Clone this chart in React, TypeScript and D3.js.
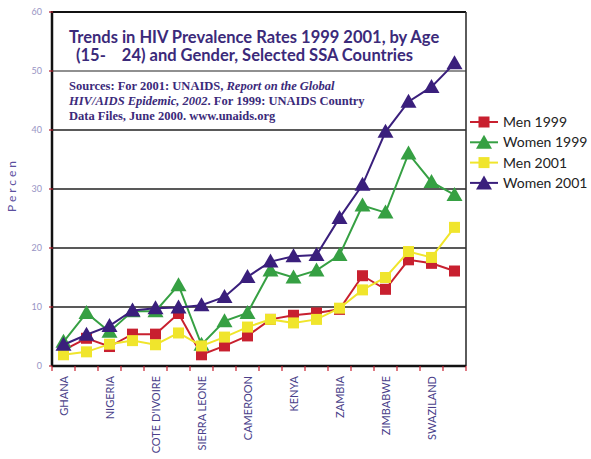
import { useMemo } from 'react'
import * as d3 from 'd3'

const W = 591
const H = 459
const MARGIN = { top: 12, right: 125, bottom: 93, left: 52 }

// 18 countries, only every other one is labelled on the axis
const countries = [
  'GHANA', '', 'NIGERIA', '', "COTE D'IVOIRE", '', 'SIERRA LEONE', '', 'CAMEROON',
  '', 'KENYA', '', 'ZAMBIA', '', 'ZIMBABWE', '', 'SWAZILAND', ''
]

const men1999 = [2.7, 4.7, 3.3, 5.4, 5.4, 8.9, 1.9, 3.4, 5.1, 7.9, 8.6, 9.0, 9.6, 15.3, 13.0, 18.0, 17.4, 16.1]
const women1999 = [4.1, 9.0, 5.8, 9.3, 9.3, 13.7, 3.6, 7.6, 9.0, 16.2, 15.0, 16.2, 18.8, 27.2, 26.0, 36.0, 31.2, 29.0]
const men2001 = [1.9, 2.4, 3.7, 4.3, 3.6, 5.6, 3.4, 4.9, 6.6, 7.9, 7.3, 7.9, 9.8, 12.9, 15.0, 19.4, 18.4, 23.5]
const women2001 = [3.6, 5.3, 6.8, 9.4, 9.8, 9.9, 10.3, 11.7, 15.1, 17.7, 18.6, 18.8, 25.1, 30.7, 39.7, 44.8, 47.3, 51.3]

const yTicks = [0, 10, 20, 30, 40, 50, 60]

const series = [
  { name: 'Men 1999', values: men1999, color: '#c8202f', marker: 'square' },
  { name: 'Women 1999', values: women1999, color: '#36a043', marker: 'triangle' },
  { name: 'Men 2001', values: men2001, color: '#f0e52c', marker: 'square' },
  { name: 'Women 2001', values: women2001, color: '#3a1f7c', marker: 'triangle' },
]

const PURPLE = '#3b2a7a'

function Marker({ type, x, y, color }: { type: string; x: number; y: number; color: string }) {
  if (type === 'square') {
    return <rect x={x - 5.5} y={y - 5.5} width={11} height={11} fill={color} />
  }
  const tri = `M${x},${y - 8} L${x + 8},${y + 6} L${x - 8},${y + 6} Z`
  return <path d={tri} fill={color} />
}

export default function App() {
  const innerWidth = W - MARGIN.left - MARGIN.right
  const innerHeight = H - MARGIN.top - MARGIN.bottom

  const { xScale, yScale } = useMemo(() => {
    const xScale = d3.scaleBand<number>()
      .domain(countries.map((_, i) => i))
      .range([0, innerWidth])
    const yScale = d3.scaleLinear().domain([0, 60]).range([innerHeight, 0])
    return { xScale, yScale }
  }, [innerWidth, innerHeight])

  const cx = (i: number) => (xScale(i) ?? 0) + xScale.bandwidth() / 2

  const line = (vals: number[]) =>
    d3.line<number>()
      .x((_, i) => cx(i))
      .y(d => yScale(d))(vals) ?? ''

  return (
    <div style={{ position: 'absolute', left: 0, top: 0 }}>
      <svg width={W} height={H} style={{ display: 'block', background: '#fff' }}>
        <g transform={`translate(${MARGIN.left},${MARGIN.top})`}>
          {/* grid lines */}
          {yTicks.filter(t => t > 0 && t < 60).map(t => (
            <line key={t} x1={0} x2={innerWidth} y1={yScale(t)} y2={yScale(t)}
              stroke={t === 50 ? '#6b6b6b' : '#222'} strokeWidth={1.6} />
          ))}

          {/* frame */}
          <line x1={0} x2={innerWidth} y1={0} y2={0} stroke="#111" strokeWidth={2.2} />
          <line x1={innerWidth} x2={innerWidth} y1={0} y2={innerHeight} stroke="#333" strokeWidth={1.6} />

          {/* title */}
          <g fill={PURPLE} fontFamily="Lato, 'Open Sans', sans-serif" fontWeight={700} fontSize={16.5}>
            <text x={17} y={31}>Trends in HIV Prevalence Rates 1999  2001, by Age</text>
            <text x={24} y={49} style={{ whiteSpace: 'pre' }}>(15-    24) and Gender, Selected SSA Countries</text>
          </g>
          <g fill={PURPLE} fontFamily="'Liberation Serif', serif" fontWeight={700} fontSize={12.5}>
            <text x={17} y={78}>
              Sources: For 2001: UNAIDS, <tspan fontStyle="italic">Report on the Global</tspan>
            </text>
            <text x={17} y={93}>
              <tspan fontStyle="italic">HIV/AIDS Epidemic, 2002</tspan>. For 1999: UNAIDS Country
            </text>
            <text x={17} y={108}>Data Files, June 2000. www.unaids.org</text>
          </g>

          {/* series */}
          {series.map(s => (
            <g key={s.name}>
              <path d={line(s.values)} fill="none" stroke={s.color} strokeWidth={2} />
              {s.values.map((v, i) => (
                <Marker key={i} type={s.marker} x={cx(i)} y={yScale(v)} color={s.color} />
              ))}
            </g>
          ))}

          {/* y axis */}
          <line x1={0} x2={0} y1={-1} y2={innerHeight} stroke="#111" strokeWidth={2.5} />
          {yTicks.map(t => (
            <g key={t} transform={`translate(0,${yScale(t)})`}>
              <line x1={-3} x2={1} stroke="#b01c2a" strokeWidth={1.2} />
              <text x={-10} dy="0.35em" textAnchor="end" fill="#9894c4"
                fontFamily="Lato, sans-serif" fontSize={9}>{t}</text>
            </g>
          ))}

          {/* x axis */}
          <line x1={0} x2={innerWidth} y1={innerHeight} y2={innerHeight} stroke="#111" strokeWidth={2.5} />
          {d3.range(countries.length + 1).map(i => {
            const x = i * xScale.step()
            return <line key={i} x1={x} x2={x} y1={innerHeight} y2={innerHeight + 5}
              stroke="#c8202f" strokeWidth={1.2} />
          })}
          {countries.map((c, i) => c && (
            <text key={i} transform={`translate(${cx(i) + 4},${innerHeight + 10}) rotate(-90)`}
              textAnchor="end" fill="#4a3f8a" fontFamily="Lato, sans-serif" fontSize={11}>{c}</text>
          ))}

          {/* y label */}
          <text transform={`translate(-36,${innerHeight / 2 - 4}) rotate(-90)`} textAnchor="middle"
            fill="#5b4f9e" fontFamily="Lato, sans-serif" fontSize={12} letterSpacing={3}>Percen</text>
        </g>

        {/* legend */}
        <g transform="translate(470,122)">
          {series.map((s, i) => (
            <g key={s.name} transform={`translate(0,${i * 20.3})`}>
              <line x1={0} x2={28} y1={0} y2={0} stroke={s.color} strokeWidth={2} />
              <Marker type={s.marker} x={14} y={s.marker === 'square' ? 0 : 0.5} color={s.color} />
              <text x={33} dy="0.35em" fill="#222" fontFamily="Lato, sans-serif" fontSize={14}>{s.name}</text>
            </g>
          ))}
        </g>
      </svg>
    </div>
  )
}
